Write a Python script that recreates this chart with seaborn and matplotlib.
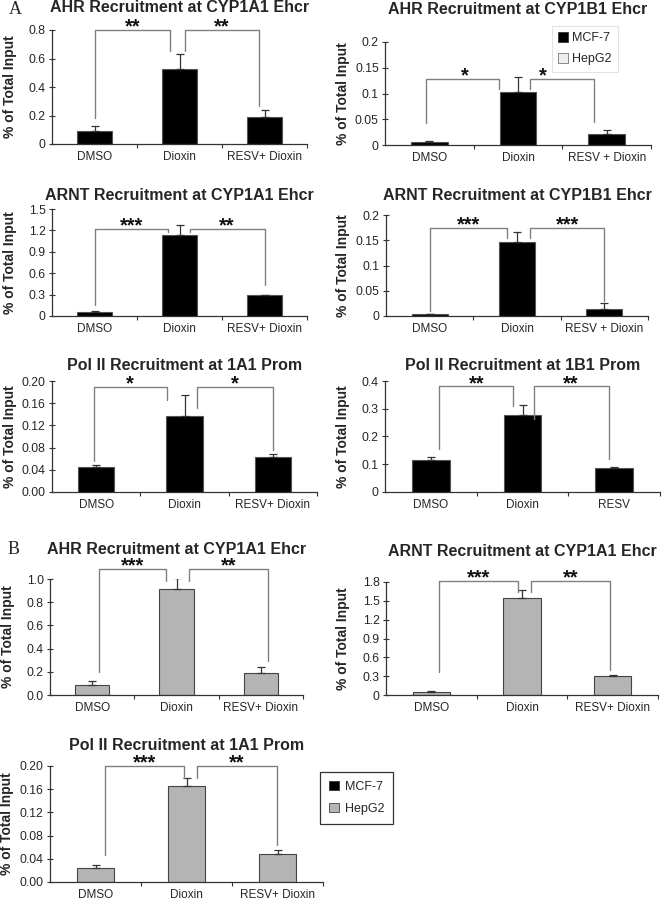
import numpy as np
import pandas as pd
import matplotlib
matplotlib.use("Agg")
import matplotlib.pyplot as plt
import seaborn as sns
from matplotlib.patches import Patch

sns.set_theme(style="white")
plt.rcParams['font.family'] = ['Liberation Sans', 'DejaVu Sans']

# ---------------- data ----------------
cats_plus = ["DMSO", "Dioxin", "RESV+ Dioxin"]
cats_plus_sp = ["DMSO", "Dioxin", "RESV + Dioxin"]
cats_resv = ["DMSO", "Dioxin", "RESV"]

# Panel A (MCF-7)
a1_mean = [0.091, 0.526, 0.192]
a1_err = [0.035, 0.106, 0.047]
a2_mean = [0.005, 0.102, 0.021]
a2_err = [0.002, 0.030, 0.009]
a3_mean = [0.060, 1.135, 0.290]
a3_err = [0.012, 0.135, 0.010]
a4_mean = [0.003, 0.146, 0.014]
a4_err = [0.000, 0.020, 0.012]
a5_mean = [0.045, 0.137, 0.063]
a5_err = [0.004, 0.037, 0.005]
a6_mean = [0.116, 0.277, 0.085]
a6_err = [0.010, 0.035, 0.005]
# Panel B (HepG2)
b1_mean = [0.090, 0.910, 0.190]
b1_err = [0.035, 0.100, 0.048]
b2_mean = [0.053, 1.544, 0.300]
b2_err = [0.015, 0.136, 0.012]
b3_mean = [0.025, 0.166, 0.048]
b3_err = [0.004, 0.013, 0.007]

# y tick values and labels
a1_ticks = [0, 0.2, 0.4, 0.6, 0.8]
a1_tlab = ["0", "0.2", "0.4", "0.6", "0.8"]
a2_ticks = [0, 0.05, 0.1, 0.15, 0.2]
a2_tlab = ["0", "0.05", "0.1", "0.15", "0.2"]
a3_ticks = [0, 0.3, 0.6, 0.9, 1.2, 1.5]
a3_tlab = ["0", "0.3", "0.6", "0.9", "1.2", "1.5"]
a4_ticks = [0, 0.05, 0.1, 0.15, 0.2]
a4_tlab = ["0", "0.05", "0.1", "0.15", "0.2"]
a5_ticks = [0, 0.04, 0.08, 0.12, 0.16, 0.20]
a5_tlab = ["0.00", "0.04", "0.08", "0.12", "0.16", "0.20"]
a6_ticks = [0, 0.1, 0.2, 0.3, 0.4]
a6_tlab = ["0", "0.1", "0.2", "0.3", "0.4"]
b1_ticks = [0, 0.2, 0.4, 0.6, 0.8, 1.0]
b1_tlab = ["0.0", "0.2", "0.4", "0.6", "0.8", "1.0"]
b2_ticks = [0, 0.3, 0.6, 0.9, 1.2, 1.5, 1.8]
b2_tlab = ["0", "0.3", "0.6", "0.9", "1.2", "1.5", "1.8"]
b3_ticks = [0, 0.04, 0.08, 0.12, 0.16, 0.20]
b3_tlab = ["0.00", "0.04", "0.08", "0.12", "0.16", "0.20"]

# significance brackets: (x_left, x_right, y_left, y_top, y_right, stars, star_x)
a1_br = [(0.0, 0.89, 0.18, 0.80, 0.65, "**", None),
         (1.07, 1.93, 0.65, 0.80, 0.27, "**", None)]
a2_br = [(-0.04, 0.79, 0.043, 0.128, 0.108, "*", 0.40),
         (1.14, 1.86, 0.108, 0.128, 0.045, "*", 1.28)]
a3_br = [(0.0, 0.87, 0.155, 1.22, 1.18, "***", None),
         (1.12, 2.0, 1.18, 1.22, 0.43, "**", None)]
a4_br = [(0.0, 0.88, 0.009, 0.175, 0.154, "***", None),
         (1.15, 2.0, 0.154, 0.175, 0.03, "***", None)]
a5_br = [(-0.03, 0.80, 0.055, 0.19, 0.166, "*", None),
         (1.14, 2.0, 0.151, 0.19, 0.076, "*", None)]
a6_br = [(0.09, 0.90, 0.156, 0.381, 0.309, "**", None),
         (1.12, 1.94, 0.264, 0.381, 0.12, "**", None)]
b1_br = [(0.085, 0.88, 0.20, 1.09, 0.98, "***", None),
         (1.15, 2.08, 0.98, 1.09, 0.29, "**", None)]
b2_br = [(0.08, 0.96, 0.37, 1.82, 1.64, "***", None),
         (1.10, 1.97, 1.64, 1.82, 0.40, "**", None)]
b3_br = [(0.10, 0.97, 0.046, 0.20, 0.18, "***", None),
         (1.12, 1.99, 0.18, 0.20, 0.064, "**", None)]

legend_labels = ["MCF-7", "HepG2"]

# ---------------- layout ----------------
W, H = 666, 900
fig = plt.figure(figsize=(W / 100, H / 100), dpi=100)

BLACK = "#000000"
GRAY = "#b4b4b4"
EDGE_A = "#555555"
EDGE_B = "#444444"


def add_ax(l, t, r, b):
    return fig.add_axes([l / W, 1 - b / H, (r - l) / W, (b - t) / H])


def panel(box, title, title_y, ylab_x, cats, mean, err, ticks, tlab, brackets,
          color, edge):
    l, t, r, b = box
    ax = add_ax(l, t, r, b)
    df = pd.DataFrame({"cat": cats, "val": mean})
    sns.barplot(data=df, x="cat", y="val", order=cats, color=color,
                saturation=1, width=0.41, errorbar=None, edgecolor=edge,
                linewidth=0.8, ax=ax, zorder=2)
    ax.errorbar(np.arange(len(cats)), mean,
                yerr=[np.zeros(len(err)), err], fmt="none",
                ecolor="#333333", elinewidth=0.9, capsize=3, capthick=0.9,
                zorder=3)
    ax.set_xlim(-0.5, 2.5)
    ax.set_ylim(0, ticks[-1])
    ax.set_yticks(ticks)
    ax.set_yticklabels(tlab)
    ax.set_xlabel("")
    ax.set_ylabel("")
    for s in ["top", "right"]:
        ax.spines[s].set_visible(False)
    for s in ["left", "bottom"]:
        ax.spines[s].set_color("#333333")
        ax.spines[s].set_linewidth(0.9)
    ax.tick_params(axis="y", direction="inout", length=5, width=0.8,
                   color="#333333", pad=2, labelsize=8.8, left=True)
    ax.tick_params(axis="x", which="major", length=0, pad=5, labelsize=8.5,
                   bottom=True)
    ax.set_xticks([0.5, 1.5, 2.5], minor=True)
    ax.tick_params(axis="x", which="minor", direction="out", length=3,
                   width=0.8, color="#333333", bottom=True)
    for x0, x1, y0, yt, y1, st, sx in brackets:
        ax.plot([x0, x0, x1, x1], [y0, yt, yt, y1], color="#808080",
                lw=1.0, clip_on=False, zorder=4)
        xs = (x0 + x1) / 2 if sx is None else sx
        ax.annotate(st, xy=(xs, yt), xytext=(0, -2.0),
                    textcoords="offset points", ha="center", va="baseline",
                    fontsize=14.5, fontweight="bold", color="#111111",
                    annotation_clip=False)
    fig.text((l + r) / 2 / W, 1 - title_y / H, title, ha="center",
             va="center", fontsize=11.5, fontweight="bold")
    fig.text(ylab_x / W, 1 - (t + b) / 2 / H, "% of Total Input",
             rotation=90, ha="center", va="center", fontsize=10,
             fontweight="bold")
    return ax


panel((52, 30, 307, 144), "AHR Recruitment at CYP1A1 Ehcr", 8, 10,
      cats_plus, a1_mean, a1_err, a1_ticks, a1_tlab, a1_br, BLACK, EDGE_A)
panel((385, 42, 651, 145), "AHR Recruitment at CYP1B1 Ehcr", 10, 343,
      cats_plus_sp, a2_mean, a2_err, a2_ticks, a2_tlab, a2_br, BLACK, EDGE_A)
panel((52, 209, 307, 316), "ARNT Recruitment at CYP1A1 Ehcr", 195, 10,
      cats_plus, a3_mean, a3_err, a3_ticks, a3_tlab, a3_br, BLACK, EDGE_A)
panel((386, 215, 648, 316), "ARNT Recruitment at CYP1B1 Ehcr", 195, 343,
      cats_plus_sp, a4_mean, a4_err, a4_ticks, a4_tlab, a4_br, BLACK, EDGE_A)
panel((52, 381, 317, 492), "Pol II Recruitment at 1A1 Prom", 365, 10,
      cats_plus, a5_mean, a5_err, a5_ticks, a5_tlab, a5_br, BLACK, EDGE_A)
panel((385, 381, 660, 492), "Pol II Recruitment at 1B1 Prom", 365, 343,
      cats_resv, a6_mean, a6_err, a6_ticks, a6_tlab, a6_br, BLACK, EDGE_A)
panel((50, 579, 303, 695), "AHR Recruitment at CYP1A1 Ehcr", 550, 8,
      cats_plus, b1_mean, b1_err, b1_ticks, b1_tlab, b1_br, GRAY, EDGE_B)
panel((386, 582, 658, 695), "ARNT Recruitment at CYP1A1 Ehcr", 552, 343,
      cats_plus, b2_mean, b2_err, b2_ticks, b2_tlab, b2_br, GRAY, EDGE_B)
panel((50, 766, 323, 882), "Pol II Recruitment at 1A1 Prom", 745, 7,
      cats_plus, b3_mean, b3_err, b3_ticks, b3_tlab, b3_br, GRAY, EDGE_B)

# panel letters
fig.text(9 / W, 1 - 9 / H, "A", fontsize=13, family="Liberation Serif",
         ha="left", va="center")
fig.text(8 / W, 1 - 550 / H, "B", fontsize=13, family="Liberation Serif",
         ha="left", va="center")

# legends
h_a = [Patch(facecolor=BLACK, edgecolor="#333333", lw=0.6),
       Patch(facecolor="#eeeeee", edgecolor="#777777", lw=0.6)]
leg1 = fig.legend(h_a, legend_labels, loc="upper left",
                  bbox_to_anchor=(552 / W, 1 - 26 / H), fontsize=9,
                  frameon=True, fancybox=False, edgecolor="#dddddd",
                  handlelength=0.8, handleheight=0.8, handletextpad=0.3,
                  labelspacing=0.7, borderpad=0.5, borderaxespad=0)
leg1.get_frame().set_linewidth(0.8)

h_b = [Patch(facecolor=BLACK, edgecolor="#333333", lw=0.6),
       Patch(facecolor=GRAY, edgecolor="#444444", lw=0.6)]
leg2 = fig.legend(h_b, legend_labels, loc="upper left",
                  bbox_to_anchor=(320 / W, 1 - 772 / H), fontsize=9,
                  frameon=True, fancybox=False, edgecolor="#000000",
                  handlelength=0.8, handleheight=0.8, handletextpad=0.5,
                  labelspacing=0.8, borderpad=0.7, borderaxespad=0)
leg2.get_frame().set_linewidth(0.9)

fig.savefig("out.png", dpi=100)
